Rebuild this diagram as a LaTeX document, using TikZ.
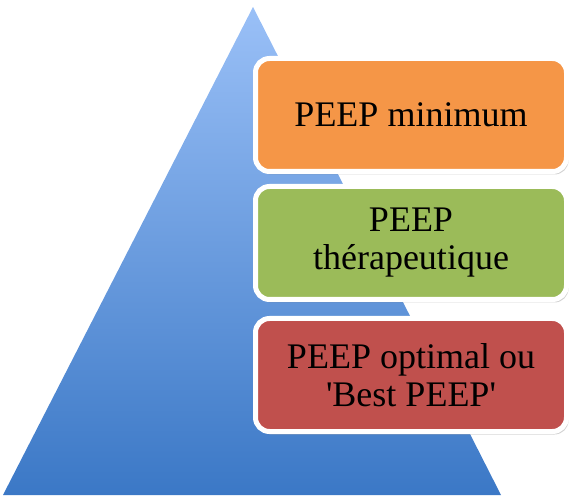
\documentclass[tikz,border=0pt]{standalone}
\usepackage{fontspec}
\setmainfont{Liberation Serif}
\usetikzlibrary{shadows}
\definecolor{topblue}{HTML}{9AC0F7}
\definecolor{botblue}{HTML}{3B78C6}
\definecolor{boxorange}{HTML}{F59647}
\definecolor{boxgreen}{HTML}{9BBB59}
\definecolor{boxred}{HTML}{C0504D}
\tikzset{
  levelbox/.style={draw=white, line width=5pt, rounded corners=14pt,
    minimum width=311pt, minimum height=113pt, align=center,
    font=\fontsize{36}{38}\selectfont, text=black,
    drop shadow={shadow xshift=2pt, shadow yshift=-3pt, opacity=0.35, fill=gray}}
}
\begin{document}
\begin{tikzpicture}[x=1pt,y=-1pt]
\useasboundingbox (0,0) rectangle (571,497);
\coordinate (apex) at (253,7);
\coordinate (bl) at (3,495);
\coordinate (br) at (501,495);
\path[top color=topblue, bottom color=botblue] (apex) -- (br) -- (bl) -- cycle;
\node[levelbox, fill=boxorange] (min) at (411,115) {PEEP minimum};
\node[levelbox, fill=boxgreen] (ther) at (411,243) {PEEP\\th\'erapeutique};
\node[levelbox, fill=boxred] (opt) at (411,375) {PEEP optimal ou\\\textquotesingle Best PEEP\textquotesingle};
\end{tikzpicture}
\end{document}
